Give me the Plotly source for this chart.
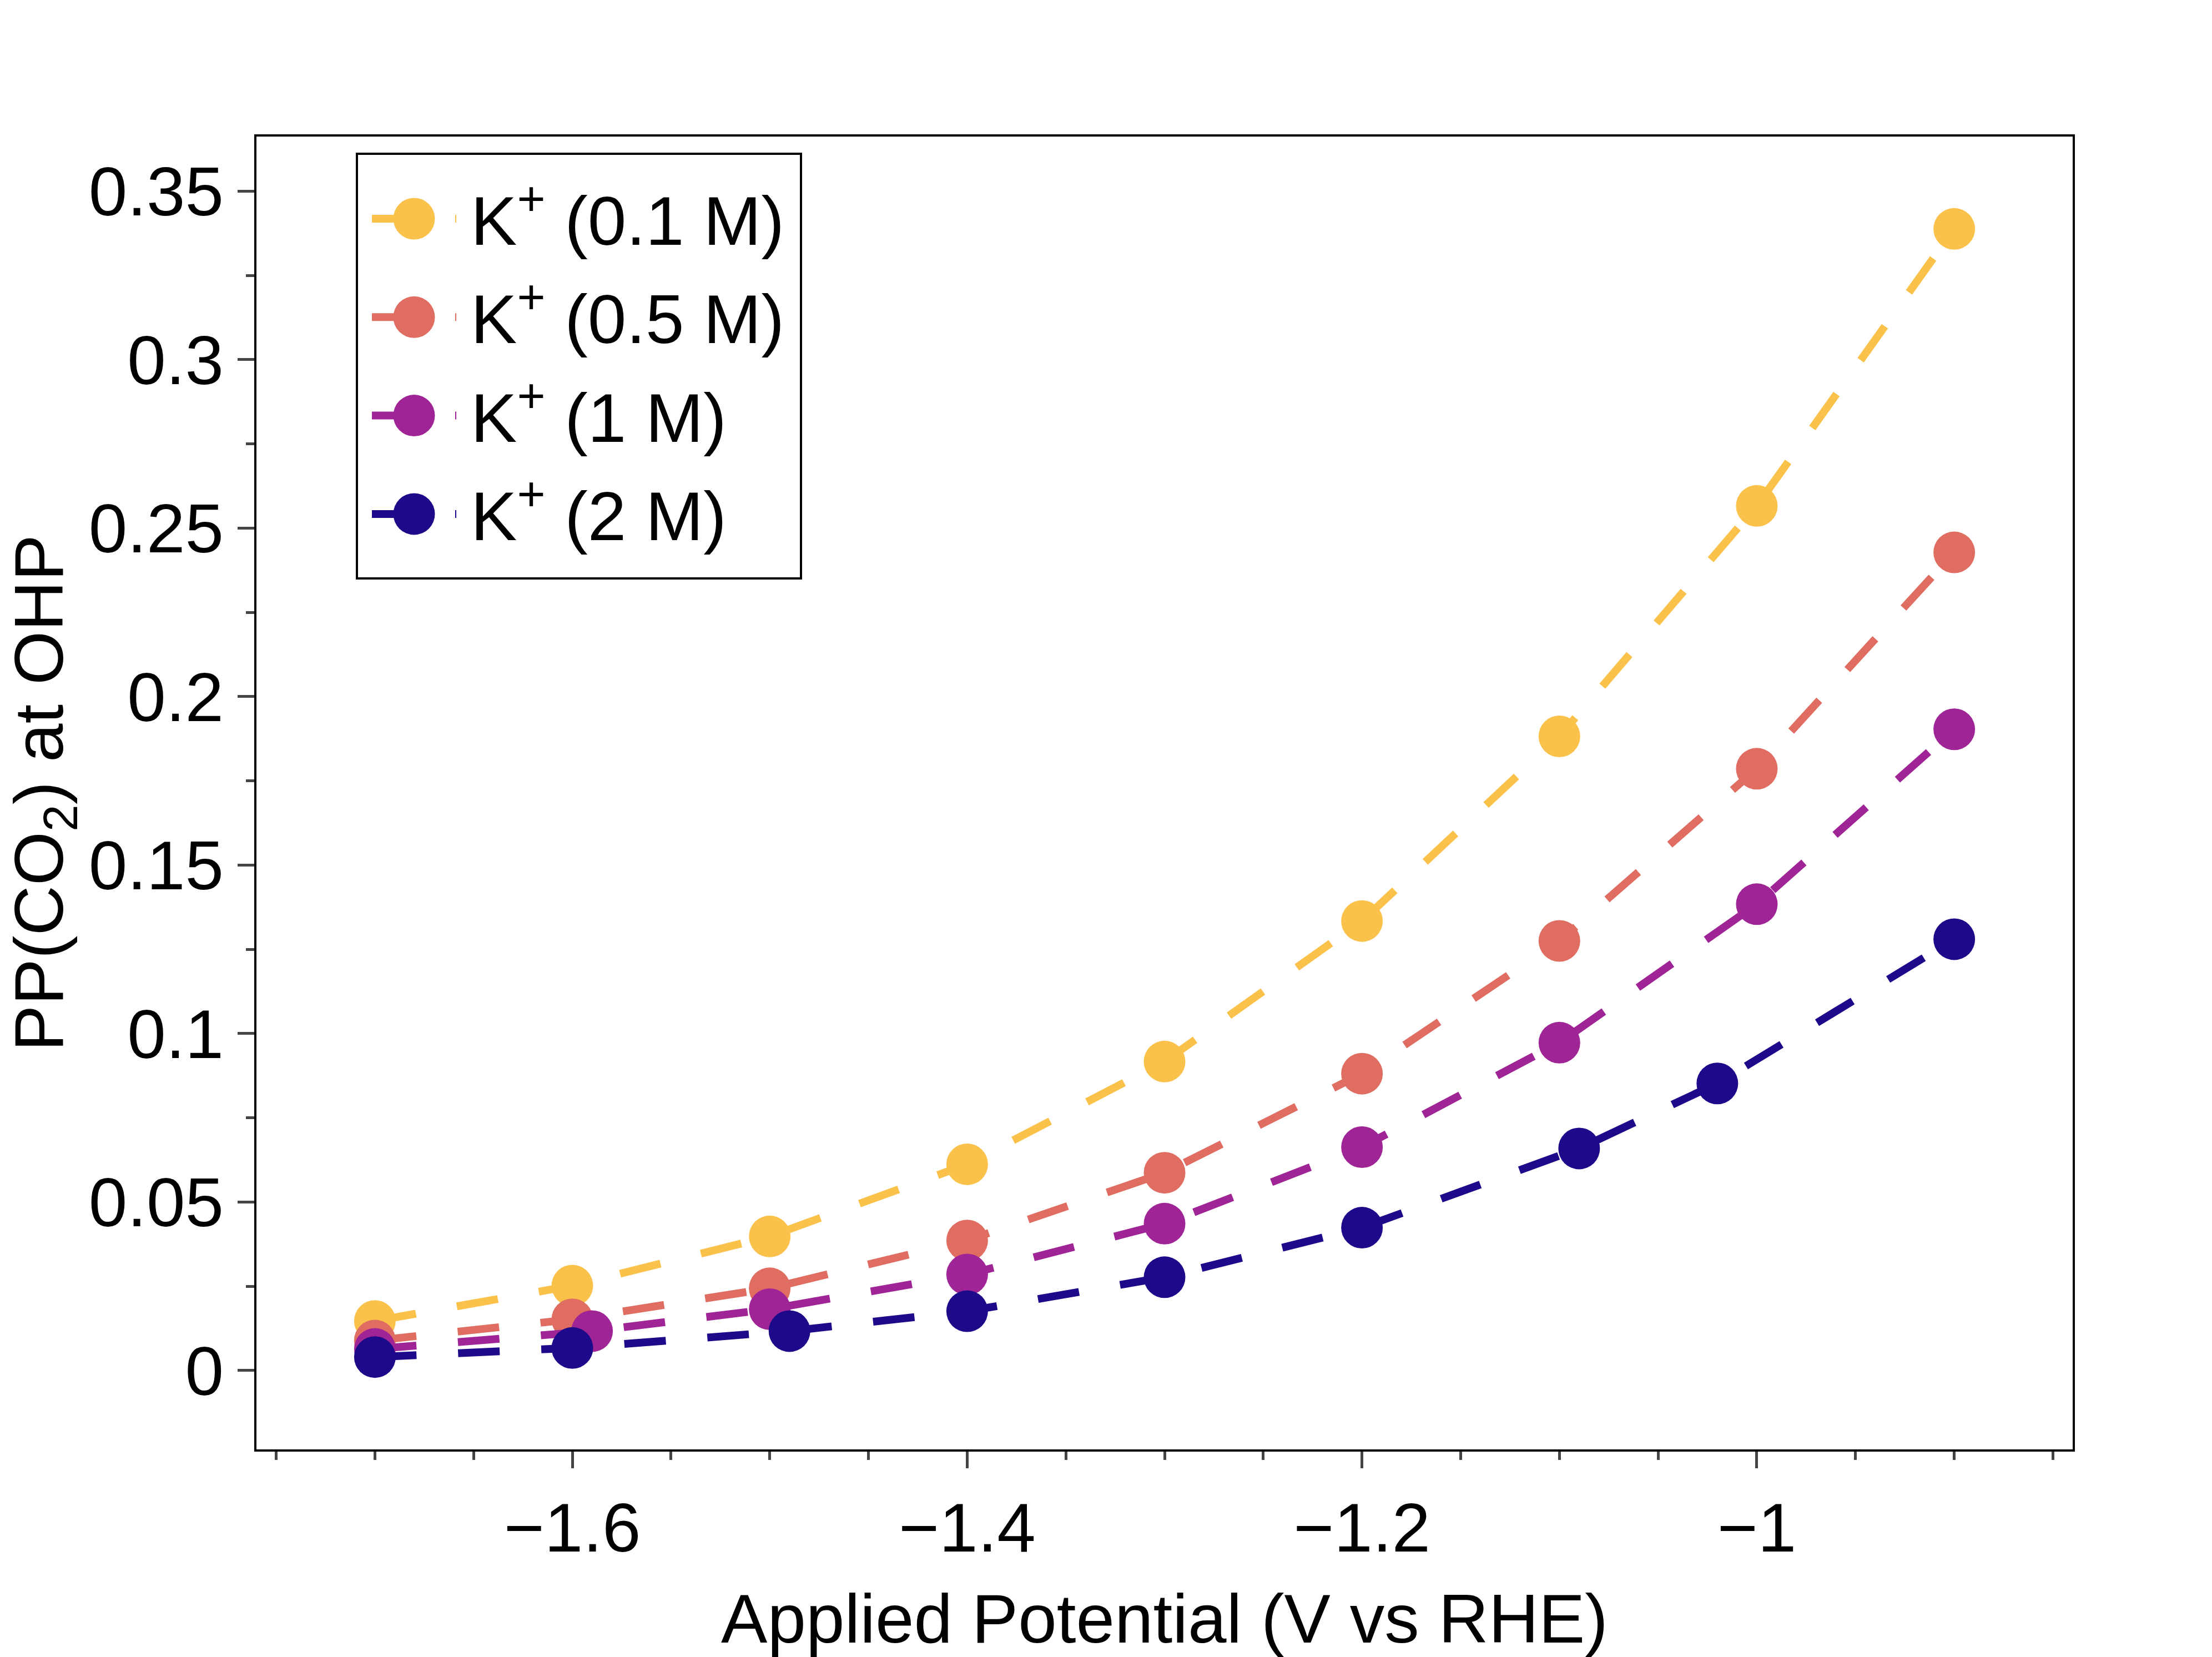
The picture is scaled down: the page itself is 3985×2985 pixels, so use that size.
import plotly.graph_objects as go

# ---------------- data ----------------
series_names = ["K<sup>+</sup> (0.1 M)", "K<sup>+</sup> (0.5 M)", "K<sup>+</sup> (1 M)", "K<sup>+</sup> (2 M)"]
series_colors = ["#FBC24B", "#E06D61", "#9F2495", "#1D0A8B"]

x_01M = [-1.7, -1.6, -1.5, -1.4, -1.3, -1.2, -1.1, -1.0, -0.9]
y_01M = [0.0147, 0.0252, 0.0398, 0.0612, 0.0917, 0.1334, 0.1882, 0.2566, 0.3388]

x_05M = [-1.7, -1.6, -1.5, -1.4, -1.3, -1.2, -1.1, -1.0, -0.9]
y_05M = [0.0089, 0.0152, 0.0244, 0.0386, 0.0587, 0.0881, 0.1275, 0.1786, 0.2428]

x_1M = [-1.7, -1.59, -1.5, -1.4, -1.3, -1.2, -1.1, -1.0, -0.9]
y_1M = [0.0064, 0.0117, 0.0182, 0.0285, 0.0436, 0.0663, 0.0973, 0.1384, 0.1903]

x_2M = [-1.7, -1.6, -1.49, -1.4, -1.3, -1.2, -1.09, -1.02, -0.9]
y_2M = [0.0040, 0.0067, 0.0117, 0.0176, 0.0277, 0.0424, 0.0659, 0.0852, 0.1280]

x_title = "Applied Potential (V vs RHE)"
y_title = "PP(CO<sub>2</sub>) at OHP"

# ---------------- figure ----------------
W, H = 3985, 2985
ML, MR, MT, MB = 462, 251, 246, 374
PW, PH = W - ML - MR, H - MT - MB

FONT = "Liberation Sans, Arial, Helvetica, sans-serif"
FS = 125
LW = 14
DASH = "75px,75px"
MS = 75

xs = [x_01M, x_05M, x_1M, x_2M]
ys = [y_01M, y_05M, y_1M, y_2M]

fig = go.Figure()
for name, col, xv, yv in zip(series_names, series_colors, xs, ys):
    fig.add_trace(go.Scatter(
        x=xv, y=yv, mode="lines+markers", name=name, showlegend=False,
        line=dict(color=col, width=LW, dash=DASH),
        marker=dict(color=col, size=MS, line=dict(width=0)),
    ))

# ---------------- custom legend (overlay axes in plot-pixel units) ----------------
leg_left, leg_right, leg_top, leg_bottom = 181, 981, 2334, 1569
row0, row_step = 2217, 177.3
line_x0, marker_x, line_x1, text_x = 208, 284, 360, 384
for i, (name, col) in enumerate(zip(series_names, series_colors)):
    yy = row0 - i * row_step
    fig.add_trace(go.Scatter(
        x=[line_x0, line_x1], y=[yy, yy], mode="lines", xaxis="x2", yaxis="y2",
        showlegend=False, hoverinfo="skip",
        line=dict(color=col, width=LW, dash=DASH),
    ))
    fig.add_trace(go.Scatter(
        x=[marker_x], y=[yy], mode="markers", xaxis="x2", yaxis="y2",
        showlegend=False, hoverinfo="skip",
        marker=dict(color=col, size=MS, line=dict(width=0)),
    ))
    fig.add_annotation(
        x=text_x, y=yy + 6, xref="x2", yref="y2", text=name, showarrow=False,
        xanchor="left", yanchor="middle", font=dict(family=FONT, size=FS, color="black"),
    )
fig.add_shape(type="rect", xref="x2", yref="y2", x0=leg_left, x1=leg_right,
              y0=leg_bottom, y1=leg_top, line=dict(color="black", width=4),
              fillcolor="rgba(0,0,0,0)", layer="above")

axis_common = dict(
    showgrid=False, zeroline=False, showline=True, linecolor="black", linewidth=4,
    mirror=True, ticks="outside", ticklen=30, tickwidth=5, tickcolor="#444444",
    tickfont=dict(family=FONT, size=FS, color="black"),
)

fig.update_layout(
    width=W, height=H,
    margin=dict(l=ML, r=MR, t=MT, b=MB, pad=0),
    paper_bgcolor="white", plot_bgcolor="white",
    font=dict(family=FONT, size=FS, color="black"),
    showlegend=False,
    xaxis=dict(
        range=[-1.76, -0.84], tick0=0, dtick=0.2,
        minor=dict(dtick=0.05, ticks="outside", ticklen=15, tickwidth=5, tickcolor="#444444"),
        title=dict(text=x_title, font=dict(family=FONT, size=FS, color="black"), standoff=55),
        **axis_common,
    ),
    yaxis=dict(
        range=[-0.0234, 0.3662], tick0=0, dtick=0.05,
        minor=dict(dtick=0.025, ticks="outside", ticklen=15, tickwidth=5, tickcolor="#444444"),
        title=dict(text=y_title, font=dict(family=FONT, size=FS, color="black"), standoff=15),
        **axis_common,
    ),
    xaxis2=dict(overlaying="x", range=[0, PW], visible=False, fixedrange=True),
    yaxis2=dict(overlaying="y", range=[0, PH], visible=False, fixedrange=True),
)

fig.write_html("out.html", config={"displayModeBar": False},
               post_script="document.body.style.margin='0';")
